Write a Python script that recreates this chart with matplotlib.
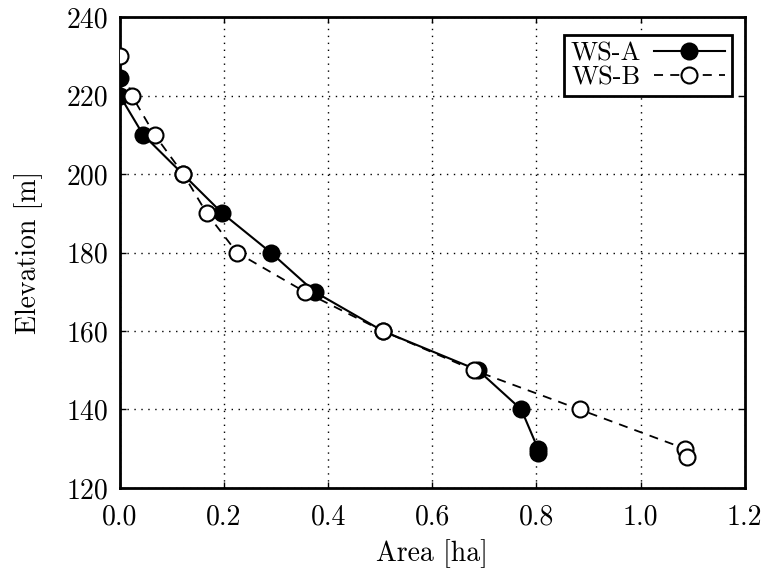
import matplotlib
matplotlib.use("Agg")
import matplotlib.pyplot as plt

# Area–elevation curves for two watersheds
ws_a_area = [0.0, 0.0, 0.045, 0.121, 0.197, 0.29, 0.374, 0.505, 0.688, 0.771, 0.803, 0.803]
ws_a_elev = [224.5, 220, 210, 200, 190, 180, 170, 160, 150, 140, 130, 129]

ws_b_area = [0.0, 0.023, 0.067, 0.122, 0.167, 0.225, 0.355, 0.505, 0.68, 0.883, 1.085, 1.089]
ws_b_elev = [230, 220, 210, 200, 190, 180, 170, 160, 150, 140, 130, 128]

x_ticks = [0.0, 0.2, 0.4, 0.6, 0.8, 1.0, 1.2]
y_ticks = [120, 140, 160, 180, 200, 220, 240]

plt.rcParams["font.family"] = ["cmr10", "DejaVu Serif"]
plt.rcParams["axes.formatter.use_mathtext"] = True
plt.rcParams["mathtext.fontset"] = "cm"

fig = plt.figure(figsize=(7.63, 5.72), dpi=100)
ax = fig.add_axes([0.157, 0.147, 0.819, 0.823])

ax.plot(ws_a_area, ws_a_elev, "-", color="black", linewidth=1.5,
        marker="o", markersize=11.5, markerfacecolor="black",
        markeredgecolor="black", markeredgewidth=1.5, label="WS-A", zorder=3)
ax.plot(ws_b_area, ws_b_elev, "--", color="black", linewidth=1.3, dashes=(5, 4),
        marker="o", markersize=11.5, markerfacecolor="white",
        markeredgecolor="black", markeredgewidth=1.5, label="WS-B", zorder=4)

ax.set_xlim(0.0, 1.2)
ax.set_ylim(120, 240)
ax.set_xticks(x_ticks)
ax.set_yticks(y_ticks)
ax.set_xticklabels([f"{v:.1f}" for v in x_ticks])
ax.set_yticklabels([str(v) for v in y_ticks])
ax.tick_params(direction="in", length=4, width=1, labelsize=20,
               top=True, right=True)
ax.tick_params(axis="x", pad=12)
ax.tick_params(axis="y", pad=8)
ax.grid(True, linestyle=(0, (1, 4)), color="black", linewidth=1.0)
for sp in ax.spines.values():
    sp.set_linewidth(2.0)

ax.set_xlabel("Area [ha]", fontsize=20, labelpad=6)
ax.set_ylabel("Elevation [m]", fontsize=20, labelpad=17)

leg = ax.legend(loc="upper right", fontsize=19, markerfirst=False,
                handlelength=2.7, handletextpad=0.5, borderpad=0.25,
                labelspacing=0.0, borderaxespad=0.0, fancybox=False,
                framealpha=1, edgecolor="black",
                bbox_to_anchor=(0.979, 0.962))
leg.get_frame().set_linewidth(2.0)

fig.savefig("out.png", dpi=100)
